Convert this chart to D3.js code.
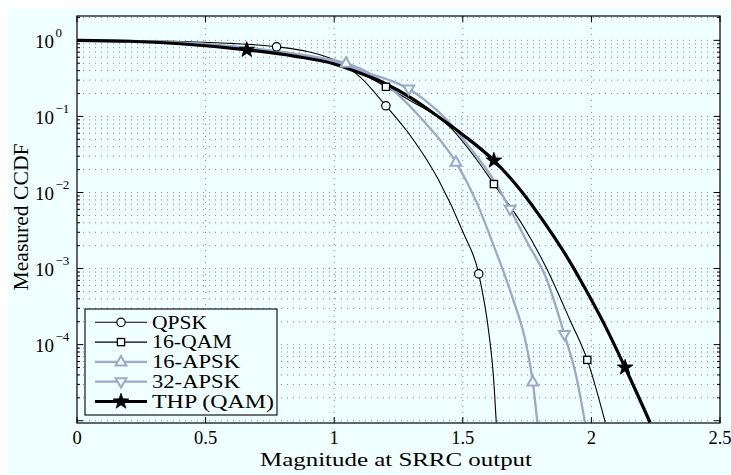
<!DOCTYPE html>
<html><head><meta charset="utf-8">
<script src="https://cdn.jsdelivr.net/npm/d3@7"></script>
<style>
body{margin:0;background:#fff}
svg{display:block}
text{font-family:"Liberation Serif","Times New Roman",serif;fill:#000}
</style>
</head><body>
<svg id="chart" width="731" height="475"></svg>
<script>
// ---------- data ----------
const xTickValues = [0, 0.5, 1, 1.5, 2, 2.5];
const xTickLabels = ["0", "0.5", "1", "1.5", "2", "2.5"];
const yTickExponents = [0, -1, -2, -3, -4];
const seriesNames = ["QPSK", "16-QAM", "16-APSK", "32-APSK", "THP (QAM)"];

const qpskX = [0, 0.2, 0.4, 0.6, 0.776, 0.9, 1.0, 1.1, 1.201, 1.3, 1.405, 1.502, 1.562, 1.603, 1.619, 1.63];
const qpskP = [1, 0.991, 0.966, 0.912, 0.822, 0.708, 0.550, 0.331, 0.138, 0.0537, 0.0148, 0.00295, 0.000851, 0.000129, 0.0000389, 0.0000095];
const qpskMarks = [4, 8, 12];

const qam16X = [0, 0.2, 0.4, 0.6, 0.8, 1.0, 1.1, 1.201, 1.3, 1.4, 1.45, 1.55, 1.621, 1.735, 1.826, 1.917, 1.984, 2.054];
const qam16P = [1, 0.977, 0.923, 0.794, 0.646, 0.490, 0.372, 0.245, 0.158, 0.100, 0.0724, 0.0282, 0.0129, 0.00363, 0.001, 0.000209, 0.0000631, 0.0000095];
const qam16Marks = [7, 12, 16];

const apsk16X = [0, 0.2, 0.4, 0.6, 0.8, 0.95, 1.046, 1.14, 1.25, 1.35, 1.473, 1.55, 1.62, 1.69, 1.748, 1.772, 1.79];
const apsk16P = [1, 0.982, 0.933, 0.832, 0.700, 0.589, 0.501, 0.363, 0.191, 0.0851, 0.0251, 0.00794, 0.002, 0.000447, 0.0000955, 0.0000324, 0.0000095];
const apsk16Marks = [6, 10, 15];

const apsk32X = [0, 0.2, 0.4, 0.6, 0.8, 1.0, 1.14, 1.22, 1.29, 1.35, 1.437, 1.53, 1.63, 1.684, 1.75, 1.826, 1.895, 1.94, 1.975];
const apsk32P = [1, 0.982, 0.933, 0.832, 0.700, 0.525, 0.363, 0.295, 0.229, 0.166, 0.0912, 0.038, 0.0129, 0.00603, 0.00224, 0.000724, 0.000136, 0.0000398, 0.0000095];
const apsk32Marks = [8, 13, 16];

const thpX = [0, 0.2, 0.4, 0.66, 0.85, 1.0, 1.1, 1.2, 1.3, 1.4, 1.5, 1.621, 1.72, 1.82, 1.9, 1.956, 2.05, 2.131, 2.228];
const thpP = [1, 0.973, 0.902, 0.750, 0.617, 0.490, 0.372, 0.269, 0.174, 0.102, 0.0575, 0.0263, 0.0112, 0.00389, 0.00151, 0.00072, 0.000186, 0.00005, 0.0000095];
const thpMarks = [3, 11, 17];

// ---------- layout / style ----------
const BG = "#f0ffff";
const GRAY = "#9ba8c7";
const L = 77, R = 720, T = 16, B = 423;
const legendTextWidths = [55, 80, 88, 88, 122];

const series = [
  {name: seriesNames[0], x: qpskX, p: qpskP, marks: qpskMarks, color: "#000", width: 1.1, marker: "circle"},
  {name: seriesNames[1], x: qam16X, p: qam16P, marks: qam16Marks, color: "#000", width: 1.1, marker: "square"},
  {name: seriesNames[2], x: apsk16X, p: apsk16P, marks: apsk16Marks, color: GRAY, width: 2.3, marker: "triUp"},
  {name: seriesNames[3], x: apsk32X, p: apsk32P, marks: apsk32Marks, color: GRAY, width: 2.3, marker: "triDown"},
  {name: seriesNames[4], x: thpX, p: thpP, marks: thpMarks, color: "#000", width: 3.2, marker: "star"}
];

const svg = d3.select("#chart");
svg.append("rect").attr("x", 8).attr("y", 8).attr("width", 723).attr("height", 467).attr("fill", BG);

const x = d3.scaleLinear().domain([0, 2.5]).range([L, R]);
const y = d3.scaleLog().domain([Math.pow(10, -5.03), Math.pow(10, 0.32)]).range([B, T]);

svg.append("defs").append("clipPath").attr("id", "clip")
  .append("rect").attr("x", L).attr("y", T).attr("width", R - L).attr("height", B - T);

// grid
const grid = svg.append("g");
const yGridVals = [];
for (let e = -5; e <= 0; e++) for (let m = 1; m <= 9; m++) {
  const v = m * Math.pow(10, e);
  if (v >= y.domain()[0] && v <= y.domain()[1]) yGridVals.push(v);
}
grid.selectAll("line.h").data(yGridVals).join("line")
  .attr("x1", L).attr("x2", R).attr("y1", d => y(d)).attr("y2", d => y(d))
  .attr("stroke", "#222").attr("stroke-width", 0.7).attr("stroke-dasharray", "1,5").attr("opacity", 0.75);
grid.selectAll("line.v").data(xTickValues.filter(v => v > 0 && v < 2.5)).join("line")
  .attr("x1", d => x(d)).attr("x2", d => x(d)).attr("y1", T).attr("y2", B)
  .attr("stroke", "#222").attr("stroke-width", 0.7).attr("stroke-dasharray", "1,5").attr("opacity", 0.75);

// lines
const plot = svg.append("g").attr("clip-path", "url(#clip)");
const lineGen = d3.line().x(d => x(d[0])).y(d => y(d[1])).curve(d3.curveMonotoneX);

function starPath(r) {
  const pts = [];
  for (let i = 0; i < 10; i++) {
    const a = -Math.PI / 2 + i * Math.PI / 5;
    const rr = i % 2 ? r * 0.4 : r;
    pts.push([rr * Math.cos(a), rr * Math.sin(a)]);
  }
  return "M" + pts.map(p => p.join(",")).join("L") + "Z";
}
function drawMarker(g, type, cx, cy, color) {
  if (type === "circle") {
    g.append("circle").attr("cx", cx).attr("cy", cy).attr("r", 4.2)
      .attr("fill", BG).attr("stroke", color).attr("stroke-width", 1.2);
  } else if (type === "square") {
    g.append("rect").attr("x", cx - 3.6).attr("y", cy - 3.6).attr("width", 7.2).attr("height", 7.2)
      .attr("fill", BG).attr("stroke", color).attr("stroke-width", 1.3);
  } else if (type === "triUp" || type === "triDown") {
    const s = type === "triUp" ? 1 : -1;
    const w = 5.4, h = 9.4;
    g.append("path")
      .attr("d", `M${cx},${cy - s * h * 0.62}L${cx + w},${cy + s * h * 0.38}L${cx - w},${cy + s * h * 0.38}Z`)
      .attr("fill", BG).attr("stroke", color).attr("stroke-width", 2);
  } else if (type === "star") {
    g.append("path").attr("d", starPath(8.2)).attr("transform", `translate(${cx},${cy})`)
      .attr("fill", "#000").attr("stroke", "#000").attr("stroke-width", 0.8);
  }
}

series.forEach(s => {
  const pts = s.x.map((v, i) => [v, s.p[i]]);
  plot.append("path").attr("d", lineGen(pts)).attr("fill", "none")
    .attr("stroke", s.color).attr("stroke-width", s.width).attr("stroke-linejoin", "round");
});
series.forEach(s => {
  s.marks.forEach(i => drawMarker(plot, s.marker, x(s.x[i]), y(s.p[i]), s.color));
});

// frame & ticks
const axes = svg.append("g");
axes.append("rect").attr("x", L).attr("y", T).attr("width", R - L).attr("height", B - T)
  .attr("fill", "none").attr("stroke", "#000").attr("stroke-width", 1.2);
xTickValues.forEach(v => {
  const px = x(v);
  axes.append("line").attr("x1", px).attr("x2", px).attr("y1", B).attr("y2", B - 6).attr("stroke", "#000");
  axes.append("line").attr("x1", px).attr("x2", px).attr("y1", T).attr("y2", T + 6).attr("stroke", "#000");
});
yGridVals.forEach(v => {
  const major = Math.abs(Math.log10(v) - Math.round(Math.log10(v))) < 1e-9;
  const len = major ? 6 : 3;
  const py = y(v);
  axes.append("line").attr("x1", L).attr("x2", L + len).attr("y1", py).attr("y2", py).attr("stroke", "#000");
  axes.append("line").attr("x1", R).attr("x2", R - len).attr("y1", py).attr("y2", py).attr("stroke", "#000");
});

// tick labels
xTickValues.forEach((v, i) => {
  svg.append("text").attr("x", x(v)).attr("y", 444).attr("text-anchor", "middle")
    .attr("font-size", 18.5).text(xTickLabels[i]);
});
yTickExponents.forEach(e => {
  const py = y(Math.pow(10, e));
  const t = svg.append("text").attr("x", 35).attr("y", py + 7.5).attr("font-size", 19);
  t.append("tspan").text("10");
  t.append("tspan").attr("dx", 1.5).attr("dy", -11).attr("font-size", 13)
    .text(e === 0 ? "0" : "\u2212" + Math.abs(e));
});

// axis labels
svg.append("text").attr("x", 396).attr("y", 466).attr("text-anchor", "middle")
  .attr("font-size", 19.5).attr("textLength", 272).attr("lengthAdjust", "spacingAndGlyphs")
  .text("Magnitude at SRRC output");
svg.append("text").attr("transform", "translate(28,217) rotate(-90)").attr("text-anchor", "middle")
  .attr("font-size", 20).attr("textLength", 147).attr("lengthAdjust", "spacingAndGlyphs")
  .text("Measured CCDF");

// legend
const lg = svg.append("g");
lg.append("rect").attr("x", 85).attr("y", 309).attr("width", 192).attr("height", 106)
  .attr("fill", BG).attr("stroke", "#000").attr("stroke-width", 1.1);
series.forEach((s, i) => {
  const ly = 322.3 + i * 19.8;
  lg.append("line").attr("x1", 95).attr("x2", 147).attr("y1", ly).attr("y2", ly)
    .attr("stroke", s.color).attr("stroke-width", s.width);
  drawMarker(lg, s.marker, 121, ly, s.color);
  lg.append("text").attr("x", 152).attr("y", ly + 6.3).attr("font-size", 17.8)
    .attr("textLength", legendTextWidths[i]).attr("lengthAdjust", "spacingAndGlyphs").text(s.name);
});
</script>
</body></html>
